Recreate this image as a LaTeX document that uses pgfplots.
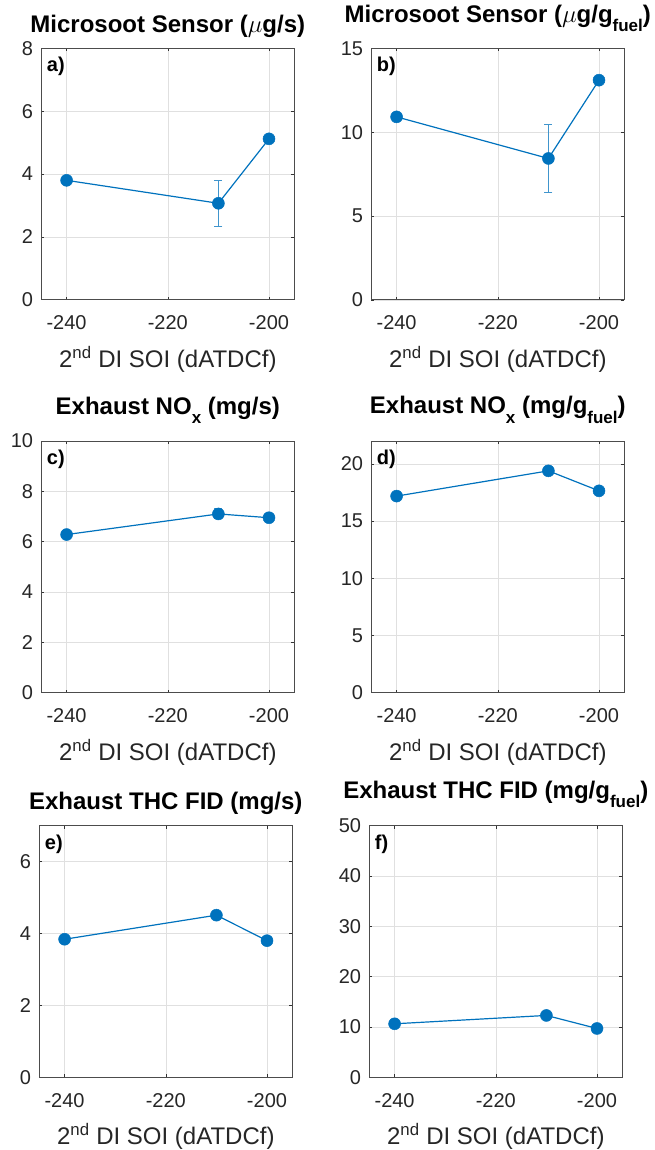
\documentclass[border=0pt]{standalone}
\usepackage{pgfplots}
\pgfplotsset{compat=1.18}
\usepackage{fontspec}
\setmainfont{Liberation Sans}
\definecolor{mblue}{rgb}{0,0.447,0.741}
\newcommand\sub[1]{\raisebox{-9.5pt}{\fontsize{17}{17}\selectfont #1}}
\tikzset{plabel/.style={anchor=north west, inner sep=0pt, font=\fontsize{20}{20}\selectfont\bfseries, xshift=5.4pt, yshift=-9pt}}
\pgfplotsset{mstyle/.style={
  scale only axis, width=253pt, height=251.5pt, anchor=north west,
  xmin=-245, xmax=-195, xtick={-240,-220,-200}, ymin=0,
  grid=major, grid style={line width=0.6pt, draw=black!12},
  axis line style={draw=black!70, line width=0.8pt},
  tick align=inside, major tick length=3pt,
  tick style={draw=black!80, line width=0.6pt},
  ticklabel style={font=\fontsize{20}{20}\selectfont, text=black!85, inner sep=0pt},
  xticklabel style={yshift=-16pt},
  yticklabel style={xshift=-8pt},
  /pgf/number format/assume math mode=true,
  xlabel={2\textsuperscript{nd} DI SOI (dATDCf)},
  xlabel style={font=\fontsize{24}{24}\selectfont, text=black!85, at={(axis description cs:0.5,0)}, anchor=base, yshift=-67.7pt},
  title style={font=\fontsize{24}{24}\selectfont\bfseries, at={(axis description cs:0.5,1)}, anchor=base},
},
mline/.style={color=mblue, line width=1.2pt, mark=*, mark size=6pt, mark options={fill=mblue, draw=mblue, line width=0.5pt}},
merr/.style={draw=none, mark=none, forget plot,
  error bars/.cd, y dir=both, y explicit,
  error bar style={color=mblue!75, line width=1pt},
  error mark options={rotate=90, mark size=4pt, color=mblue!75, line width=1pt}}
}
\begin{document}
\begin{tikzpicture}
\path[use as bounding box] (0,0) rectangle (654pt,-1150pt);
% a
\begin{axis}[mstyle, at={(41.3pt,-48.3pt)}, ymax=8, ytick={0,2,4,6,8},
  title={Microsoot Sensor ($\mu$g/s)}, title style={yshift=10pt}]
\addplot[merr] coordinates {(-210,3.07) +- (0,0.73)};
\addplot[mline] coordinates {(-240,3.80) (-210,3.07) (-200,5.12)};
\node[plabel] at (rel axis cs:0,1) {a)};
\end{axis}
% b
\begin{axis}[mstyle, at={(371.3pt,-48.3pt)}, ymax=15, ytick={0,5,10,15},
  title={Microsoot Sensor ($\mu$g/g\sub{fuel})}, title style={yshift=20pt}]
\addplot[merr] coordinates {(-210,8.43) +- (0,2.02)};
\addplot[mline] coordinates {(-240,10.91) (-210,8.43) (-200,13.10)};
\node[plabel] at (rel axis cs:0,1) {b)};
\end{axis}
% c
\begin{axis}[mstyle, at={(41.3pt,-441pt)}, ymax=10, ytick={0,2,4,6,8,10},
  title={Exhaust NO\sub{x} (mg/s)}, title style={yshift=21pt}]
\addplot[merr] coordinates {(-210,7.10) +- (0,0.2)};
\addplot[mline] coordinates {(-240,6.28) (-210,7.10) (-200,6.95)};
\node[plabel] at (rel axis cs:0,1) {c)};
\end{axis}
% d
\begin{axis}[mstyle, at={(371.3pt,-441pt)}, ymax=22, ytick={0,5,10,15,20},
  title={Exhaust NO\sub{x} (mg/g\sub{fuel})}, title style={yshift=21.5pt}]
\addplot[mline] coordinates {(-240,17.18) (-210,19.39) (-200,17.64)};
\node[plabel] at (rel axis cs:0,1) {d)};
\end{axis}
% e
\begin{axis}[mstyle, at={(39.3pt,-825.7pt)}, ymax=7, ytick={0,2,4,6},
  title={Exhaust THC FID (mg/s)}, title style={yshift=10.7pt}]
\addplot[mline] coordinates {(-240,3.84) (-210,4.51) (-200,3.80)};
\node[plabel] at (rel axis cs:0,1) {e)};
\end{axis}
% f
\begin{axis}[mstyle, at={(369.3pt,-825.7pt)}, ymax=50, ytick={0,10,20,30,40,50},
  title={Exhaust THC FID (mg/g\sub{fuel})}, title style={yshift=21.4pt}]
\addplot[mline] coordinates {(-240,10.62) (-210,12.28) (-200,9.69)};
\node[plabel] at (rel axis cs:0,1) {f)};
\end{axis}
\end{tikzpicture}
\end{document}
